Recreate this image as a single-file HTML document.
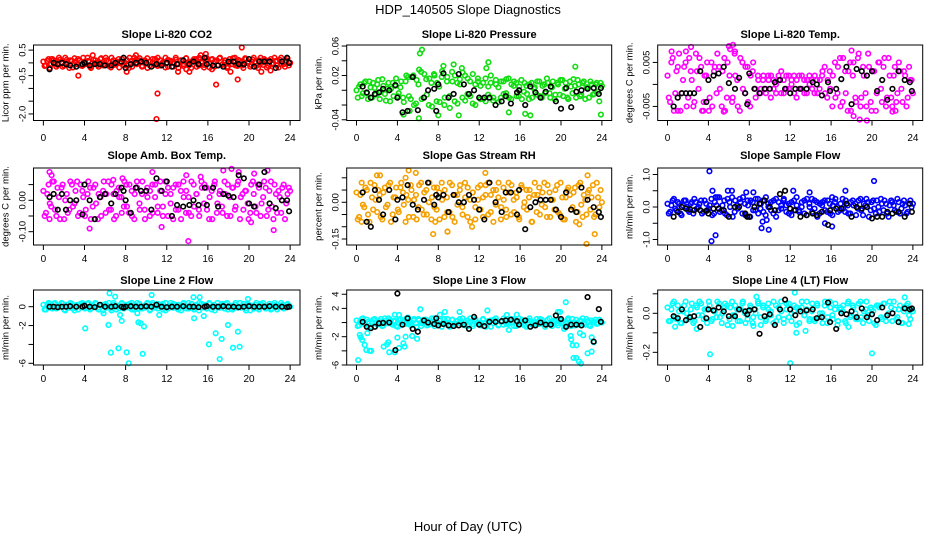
<!DOCTYPE html>
<html><head><meta charset="utf-8"><title>HDP_140505 Slope Diagnostics</title>
<style>
html,body{margin:0;padding:0;background:#fff;}
svg{display:block;font-family:"Liberation Sans",Arial,sans-serif;}
</style></head>
<body>
<svg id="chart" width="936" height="540" viewBox="0 0 936 540" xmlns="http://www.w3.org/2000/svg">
<text x="468" y="14" text-anchor="middle" font-size="13">HDP_140505  Slope Diagnostics</text>
<text x="468" y="531" text-anchor="middle" font-size="13">Hour of Day (UTC)</text>
</svg>
<script>
// shared category data
const xTicks = [0,4,8,12,16,20,24];
const blackHours = [0.6,1.0,1.4,1.8,2.2,2.6,3.2,3.8,4.0,4.5,5.0,5.5,6.0,6.6,7.0,7.6,7.8,8.0,8.5,9.0,9.5,10.0,10.5,11.0,11.5,12.0,12.5,13.0,13.6,14.2,14.6,15.1,15.7,15.9,16.5,17.0,17.5,18.0,18.5,19.0,19.5,20.0,20.5,21.0,21.5,22.0,22.6,23.2,23.7,23.9];

// Panel 1: CO2
const co2Main = [0.05,-0.1,0.15,-0.05,0.1,-0.15,0.2,0,-0.1,0.12,-0.2,0.08,0.18,-0.05,0.1,-0.12,0.05,0.2,-0.15,0,0.1,-0.08,0.15,-0.1,0.2,0.05,-0.18,0.1,-0.05,0.15,0,-0.1,0.12,-0.2,0.08,0.2,-0.05,0.1,-0.15,0.05,0.18,-0.1,0,0.15,-0.12,0.1,-0.05,0.2,-0.15,0.08,0,0.12,-0.2,0.1,-0.05,0.18,-0.1,0.05,0.15,-0.15,0.2,0,-0.08,0.1,-0.18,0.15,0.05,-0.1,0.2,-0.05,0.1,-0.15,0.05,0.18,-0.1,0.12,0,-0.2,0.15,0.05,-0.08,0.2,-0.12,0.1,0,0.15,-0.18,0.08,-0.05,0.2,-0.1,0.12,0.05,-0.15,0.18,0];
const co2MainB = [-0.12,0.08,-0.2,0.15,0,-0.08,0.12,-0.15,0.2,-0.02,0.1,-0.18,0.05,0.15,-0.1,0.2,-0.05,0.08,-0.2,0.12,0,-0.15,0.18,-0.05,0.1,-0.12,0.2,-0.08,0.05,-0.18,0.15,0.02,-0.1,0.2,-0.15,0.08,-0.02,0.18,-0.12,0.1,-0.2,0.05,0.15,-0.08,0.2,-0.1,0.02,-0.18,0.12,0.05,-0.15,0.2,-0.05,0.1,-0.12,0.18,0,-0.2,0.08,0.15,-0.1,0.05,-0.18,0.2,-0.02,0.12,-0.15,0.1,0.18,-0.08,0.02,-0.2,0.15,-0.05,0.2,-0.12,0.08,-0.1,0.18,0,-0.15,0.12,0.05,-0.2,0.2,-0.08,0.1,-0.12,0.15,-0.02,0.08,-0.18,0.2,-0.05,0.1,-0.1];
const co2OutHours = [3.4,4.8,8.1,11.1,11.0,13.1,14.2,15.8,16.4,16.8,18.2,18.9,19.3,21.2,22.1,9.0,13.9,15.3,0.8];
const co2OutValues = [-0.5,0.3,-0.35,-1.2,-2.2,-0.35,-0.35,0.35,-0.25,-0.85,-0.35,-0.65,0.6,-0.35,-0.3,0.3,-0.25,0.3,0.15];
const co2Black = [-0.25,0,-0.05,0,-0.05,-0.1,-0.15,-0.05,0,-0.1,-0.05,-0.05,-0.1,-0.1,0,0.05,0.2,-0.2,-0.05,0,0.05,0,-0.15,-0.05,-0.1,0,-0.15,-0.05,0.1,-0.05,0.05,-0.05,0.2,-0.05,-0.1,-0.1,-0.15,0.05,0.05,-0.05,-0.05,0.15,-0.15,0.05,0.05,0.05,-0.2,0.05,0.2,0];
const co2Ticks = [0.5,0,-0.5,-1,-1.5,-2];
const co2TickLabels = ["0.5","","-0.5","","","-2.0"];

// Panel 2: Pressure
const presMain = [0,0.005,-0.008,0.01,-0.004,0.012,-0.01,0.003,0.008,-0.012,0.015,-0.005,0.002,-0.015,0.01,0.006,-0.008,0.004,-0.01,0.012,0.018,-0.012,0.02,-0.018,0.008,0.025,-0.01,0.015,-0.02,0.01,0.022,-0.015,0.005,0.018,-0.02,0.012,-0.008,0.025,-0.015,0.01,0.015,-0.01,0.02,-0.005,0.012,-0.018,0.008,0.016,-0.012,0.01,-0.015,0.005,0.02,-0.01,0.008,-0.016,0.012,-0.005,0.015,-0.01,0.008,0.012,-0.008,0.005,-0.012,0.01,-0.005,0.008,-0.01,0.004,0.012,-0.008,0.006,-0.004,0.01,-0.01,0.012,-0.006,0.008,0.014,-0.008,0.01,-0.012,0.005,0.015,-0.01,0.008,-0.006,0.012,0.004,-0.01,0.008,-0.005,0.01,-0.015,0.006];
const presMainB = [-0.01,0.008,-0.004,0.012,-0.012,0.004,0.01,-0.006,0.014,-0.002,0.006,-0.014,0.01,0.002,-0.008,0.016,-0.004,0.012,-0.016,0.02,-0.008,0.018,-0.02,0.014,0.028,-0.012,0.022,-0.006,0.016,-0.022,0.02,0.01,-0.016,0.026,-0.01,0.018,-0.024,0.012,0.02,-0.018,0.008,0.024,-0.014,0.016,-0.008,0.022,-0.02,0.012,0.006,-0.012,0.016,-0.006,0.01,-0.014,0.014,0.004,-0.01,0.012,-0.004,0.016,-0.012,0.006,0.01,-0.008,0.014,-0.002,0.006,-0.012,0.01,0.002,-0.006,0.012,-0.01,0.008,0.016,-0.004,0.004,-0.012,0.01,-0.006,0.014,0.002,-0.01,0.012,-0.004,0.006,0.014,-0.008,0.01,-0.012,0.004,0.012,-0.006,0.008,-0.002,0.01];
const presOutHours = [6.2,6.4,6.1,12.9,21.4,23.9,4.6,5.2,8.0,14.9,16.5,17.0,9.5,10.3,12.7,10.0,8.5];
const presOutValues = [0.05,0.055,-0.038,0.038,0.032,-0.033,-0.033,-0.028,-0.034,-0.03,-0.032,-0.034,0.035,0.03,0.03,-0.034,0.033];
const presBlack = [0.005,-0.003,-0.01,-0.005,-0.003,0.002,0,0.007,-0.01,-0.03,-0.028,0.018,-0.027,-0.01,0,0.002,-0.028,0.008,0.023,-0.01,-0.005,0.022,0.008,-0.005,0,-0.01,-0.01,-0.01,-0.02,-0.015,-0.008,-0.018,-0.003,0,-0.02,0.005,-0.003,-0.01,-0.002,0.005,-0.015,-0.025,0.003,-0.023,-0.002,0,0.002,0.003,-0.005,0.003];
const presTicks = [0.06,0.04,0.02,0,-0.02,-0.04];
const presTickLabels = ["0.06","","0.02","","","-0.04"];

// Panel 3: Li-820 Temp
const ltMain = [0.002,-0.004,0.006,-0.002,0.004,-0.006,0.001,0.005,-0.003,0.003,-0.005,0.007,-0.001,0.004,-0.004,0.002,-0.006,0.005,0.003,-0.002,0.004,-0.005,0.006,-0.003,0.002,-0.004,0.007,0.001,-0.006,0.005,-0.002,0.004,-0.005,0.003,-0.001,0.002,-0.002,0.001,-0.001,0.002,-0.003,0.001,0,0.002,-0.002,0.001,-0.001,0.002,0,-0.002,0.001,-0.001,0.002,-0.002,0.001,0,-0.001,0.002,-0.002,0.001,0.003,-0.002,0.001,-0.001,0.002,-0.003,0.004,-0.005,0.006,-0.002,0.003,-0.006,0.005,-0.004,0.007,-0.003,0.002,-0.005,0.004,-0.006,0.003,-0.002,0.005,-0.004,0.006,-0.003,0.002,-0.005,0.004,-0.002,0.003,-0.004,0.002,-0.003,0.001,-0.002];
const ltMainB = [-0.003,0.005,-0.006,0.003,0.007,-0.002,0.004,-0.005,0.006,0.001,-0.004,0.003,0.006,-0.006,0.002,0.005,-0.003,-0.005,0.004,0.007,-0.001,0.003,-0.006,0.005,0.008,-0.003,0.002,-0.005,0.006,-0.001,0.004,-0.004,0.002,0.005,-0.003,0.001,-0.001,0.002,-0.002,0.001,0.002,-0.001,-0.002,0.001,0.003,-0.002,0.002,-0.001,0.001,0.002,-0.003,0.002,-0.001,0.001,-0.002,0.002,0.001,-0.002,0.001,-0.001,0.002,0.004,-0.003,0.003,-0.005,0.005,-0.002,0.006,-0.004,0.003,-0.006,0.005,0.002,-0.003,0.006,-0.005,0.004,-0.002,0.007,-0.004,0.003,-0.006,0.005,-0.001,0.004,-0.005,0.006,-0.003,0.002,-0.004,0.005,-0.001,0.003,-0.005,0.004,0.001];
const ltOutHours = [0.4,1.8,2.3,6.0,6.4,6.6,18.0,18.2,18.8,19.5,22.0,22.3,1.0,5.5,3.5];
const ltOutValues = [0.0075,0.0075,0.0085,0.0087,0.009,0.0075,0.0077,-0.0072,-0.008,-0.0082,-0.0062,-0.006,-0.006,-0.0062,-0.006];
const ltBlack = [-0.005,-0.003,-0.002,-0.002,-0.002,-0.002,0.003,-0.004,0.001,0.002,0.0025,0.004,0.0003,-0.001,0.0015,-0.002,-0.0045,0.0025,-0.001,-0.002,-0.001,-0.001,0.0005,0.001,-0.001,-0.002,-0.001,-0.001,-0.001,0.0005,0,-0.0025,0.0005,-0.0015,-0.001,0.0012,0.004,-0.0045,0.0035,0.003,0.002,0.003,-0.0015,0.001,-0.0035,-0.001,0.003,0.001,0.0005,-0.0015];
const ltTicks = [0.005,0,-0.005];
const ltTickLabels = ["0.005","","-0.005"];

// Panel 4: Amb box temp
const abMain = [0.03,-0.04,0.05,-0.02,0.06,-0.05,0.01,0.04,-0.06,0.02,-0.03,0.05,-0.01,0.06,-0.04,0.03,-0.05,0.02,0.04,-0.02,0.05,-0.06,0.01,0.03,-0.04,0.06,-0.03,0.02,-0.05,0.04,0.01,-0.02,0.05,-0.04,0.03,-0.06,0.06,-0.01,0.02,-0.03,0.04,-0.05,0.05,0.01,-0.04,0.03,-0.02,0.06,-0.05,0.02,0.04,-0.03,0.05,-0.06,0.01,0.03,-0.04,0.06,-0.02,0.02,-0.05,0.04,0.05,-0.03,0.01,-0.06,0.06,-0.01,0.03,-0.04,0.02,0.05,-0.05,0.04,-0.02,0.06,0.01,-0.03,0.03,-0.06,0.05,0.02,-0.04,0.04,-0.01,0.06,-0.05,0.03,-0.02,0.05,-0.04,0.01,0.04,-0.06,0.02,0.03];
const abMainB = [-0.05,0.02,-0.01,0.06,-0.03,0.04,-0.06,0.05,0,-0.04,0.06,-0.02,0.03,-0.05,0.05,0.01,-0.03,0.06,-0.06,0.04,-0.01,0.02,-0.05,0.06,0.02,-0.03,0.05,-0.06,0.03,0.01,-0.04,0.06,-0.02,0.05,-0.05,0.02,0.04,-0.03,0.06,-0.06,0.01,0.03,-0.04,0.05,-0.02,0.06,-0.05,0.02,0.04,-0.01,-0.06,0.05,-0.03,0.03,0.06,-0.04,0.01,-0.05,0.05,0.02,-0.03,0.06,-0.01,0.04,-0.06,0.03,0.05,-0.04,0.02,-0.02,0.06,-0.05,0.01,0.04,-0.03,0.05,-0.06,0.02,0.03,-0.01,-0.04,0.06,-0.02,0.05,-0.05,0.01,0.04,-0.03,0.06,-0.06,0.02,0.03,-0.04,0.05,-0.01,0.04];
const abOutHours = [0.6,0.8,4.5,6.8,10.6,11.5,14.1,15.3,17.5,18.3,19.0,20.2,20.5,21.8,22.4,0.6,7.7,13.9];
const abOutValues = [0.09,0.08,-0.09,0.065,0.09,-0.085,-0.13,0.075,0.095,0.1,0.09,-0.07,0.085,0.095,-0.095,-0.06,0.07,0.08];
const abBlack = [0.01,0.02,-0.03,0.02,-0.03,0,0,-0.045,0.05,0,-0.06,0.01,0.02,-0.01,0.02,0.04,0.03,0,-0.04,0.04,0.03,0.03,-0.03,0.07,0.03,0.06,-0.05,-0.015,-0.02,-0.015,0,-0.015,0.04,-0.015,0.04,-0.02,0.02,0.015,0.01,0.08,0.07,-0.01,-0.02,0.05,0.09,-0.01,-0.025,0,0,-0.035];
const abTicks = [0.05,0,-0.05,-0.1];
const abTickLabels = ["","0.00","","-0.10"];

// Panel 5: Gas stream RH
const rhMain = [0.04,-0.06,0.08,-0.02,0.05,-0.08,0.02,0.07,-0.04,0.03,-0.07,0.06,-0.01,0.08,-0.05,0.02,-0.03,0.06,0.04,-0.08,0.01,0.07,-0.06,0.03,-0.02,0.08,-0.05,0.05,0,-0.07,0.06,-0.03,0.04,0.08,-0.06,0.02,-0.04,0.07,-0.08,0.03,0.05,-0.02,0.08,-0.06,0.01,0.04,-0.07,0.06,-0.03,0.02,0.07,-0.05,0.03,-0.08,0.05,0.08,-0.02,0.01,-0.06,0.04,0.07,-0.04,0.02,-0.07,0.06,0,-0.03,0.05,-0.08,0.08,0.03,-0.05,0.04,-0.02,0.07,-0.06,0.01,0.05,-0.04,0.08,-0.07,0.02,0.06,-0.03,0.04,-0.08,0.07,-0.01,0.03,-0.05,0.05,0.02,-0.06,0.08,-0.02,0];
const rhMainB = [-0.07,0.03,-0.01,0.06,-0.05,0.08,-0.03,0.01,0.05,-0.06,0.04,-0.02,0.07,-0.08,0.02,0.06,-0.04,0.08,-0.01,0.03,-0.06,0.05,0.01,-0.07,0.07,-0.03,0.04,-0.05,0.08,0.02,-0.02,0.06,-0.07,0.01,0.05,-0.04,0.08,-0.06,0.03,-0.01,0.07,-0.05,0.02,0.06,-0.08,0.04,-0.02,0.01,0.07,-0.06,0.03,0.08,-0.04,0.05,-0.01,0.02,-0.07,0.06,-0.03,0.08,-0.05,0.01,0.04,-0.06,0.07,-0.02,0.05,0.02,-0.08,0.03,-0.04,0.06,-0.01,0.08,-0.06,0.04,0.01,-0.03,0.07,-0.05,0.02,-0.07,0.05,0.03,-0.02,0.06,-0.04,0.08,-0.06,0.01,0.04,-0.03,0.07,-0.05,0.02,0.05];
const rhOutHours = [2.0,2.3,4.8,5.1,5.8,8.9,12.6,22.6,22.5,23.3,7.5,7.7,8.9,11.3,21.8,0.5];
const rhOutValues = [0.11,0.11,0.1,0.13,0.12,-0.12,0.12,0.11,-0.17,-0.13,-0.13,-0.08,-0.12,-0.1,-0.09,-0.08];
const rhBlack = [0.04,-0.08,-0.1,0.05,0.01,-0.05,0.05,-0.07,0.01,0.02,0.07,-0.01,-0.03,0.01,0.08,-0.01,0.03,0.02,0.03,-0.04,0.03,0,0,0.03,0.01,-0.03,-0.07,0.08,0,-0.04,0.04,0.04,-0.05,0.05,-0.11,-0.02,0,0.01,0.01,0.01,-0.03,-0.06,0.04,-0.03,-0.04,0.06,0.01,-0.02,-0.04,-0.06];
const rhTicks = [0.1,0.05,0,-0.05,-0.1,-0.15];
const rhTickLabels = ["","","0.00","","","-0.15"];

// Panel 6: Sample flow
const sfMain = [0.1,-0.15,0.2,-0.05,0.15,-0.2,0.05,0.2,-0.1,0.1,-0.2,0.15,0,0.2,-0.15,0.1,-0.05,0.25,-0.2,0.05,0.3,-0.1,0.2,-0.25,0.15,0.3,-0.15,0.05,0.25,-0.2,0.1,0.2,-0.3,0.15,-0.1,0.25,-0.05,0.2,-0.25,0.1,0.15,-0.2,0.25,-0.1,0.05,0.2,-0.15,0.1,-0.25,0.2,0.05,-0.1,0.15,-0.2,0.25,0,-0.15,0.2,-0.3,0.1,0.15,-0.1,0.2,-0.2,0.05,0.25,-0.15,0.1,-0.05,0.2,-0.2,0.15,0.05,-0.25,0.2,-0.1,0.1,0.25,-0.3,0.15,-0.05,0.2,-0.15,0.1,0.2,-0.2,0.05,0.15,-0.1,0.25,-0.2,0.1,0.05,-0.15,0.2,0.1];
const sfMainB = [-0.2,0.05,0.25,-0.1,0.1,-0.25,0.2,0,-0.15,0.15,0.25,-0.05,0.1,-0.2,0.2,-0.1,0.05,-0.25,0.15,0.3,-0.15,0.05,-0.2,0.25,0,-0.3,0.2,-0.05,0.15,0.3,-0.25,0.05,0.2,-0.1,0.25,-0.2,0.1,-0.15,0.3,0,-0.1,0.2,-0.3,0.15,-0.05,0.25,0.05,-0.2,0.15,-0.1,0.3,-0.15,0,0.2,-0.25,0.1,0.25,-0.05,0.15,-0.2,0.05,0.2,-0.15,0.1,-0.25,0.15,0,-0.1,0.25,-0.15,0.05,-0.2,0.2,0.1,-0.05,0.25,-0.25,0.05,0.15,-0.1,0.2,-0.2,0,0.25,-0.1,0.1,-0.3,0.2,0.05,-0.15,0.15,-0.05,0.2,-0.2,0.1,0];
const sfOutHours = [4.1,4.3,4.4,4.7,5.9,6.3,7.7,8.4,9.2,9.9,12.3,13.9,15.4,16.1,16.1,17.4,20.2,4.7,9.3,9.7];
const sfOutValues = [1.1,-1.05,0.5,-0.87,0.5,0.5,0.45,0.45,-0.65,-0.7,0.5,0.45,-0.5,-0.6,0.3,0.5,0.8,0.3,-0.45,-0.4];
const sfBlack = [-0.3,-0.15,0,-0.05,-0.07,-0.1,-0.1,-0.12,-0.2,-0.05,-0.05,-0.1,-0.3,0,0,-0.2,-0.3,-0.3,0,0.1,0.2,0,-0.1,0.4,0.5,-0.05,-0.1,-0.3,-0.25,-0.2,-0.25,-0.15,-0.55,-0.1,-0.05,-0.05,0.1,-0.3,0,-0.05,0,-0.35,-0.3,-0.3,-0.15,-0.2,-0.15,-0.3,0.1,-0.15];
const sfTicks = [1,0.5,0,-0.5,-1];
const sfTickLabels = ["1.0","","0.0","","-1.0"];

// Panel 7: Line 2 flow
const l2Main = [0.2,-0.3,0.4,-0.1,0.3,-0.2,0.1,0.4,-0.3,0.2,-0.1,0.3,-0.4,0.2,0,0.4,-0.2,0.3,-0.3,0.1,0.4,-0.1,0.2,-0.4,0.3,0,-0.2,0.4,-0.3,0.1,0.3,-0.2,0.2,-0.1,0.4,-0.3,0,0.3,-0.2,0.1,0.4,-0.4,0.2,-0.1,0.3,0,-0.3,0.4,-0.2,0.1,0.3,-0.1,0.2,-0.4,0.4,0,-0.2,0.3,-0.3,0.1,0.4,-0.1,0.2,-0.2,0.3,0,-0.4,0.4,-0.1,0.2,0.3,-0.3,0.1,-0.2,0.4,0,-0.1,0.3,-0.4,0.2,0.1,-0.2,0.4,-0.3,0.2,0,-0.1,0.3,-0.2,0.4,-0.3,0.1,0.2,-0.1,0.3,0];
const l2MainB = [-0.3,0.1,0.3,-0.2,0.4,-0.1,0,0.3,-0.4,0.2,0.4,-0.2,0.1,-0.3,0.3,0.2,-0.1,0.4,-0.2,0,0.3,-0.3,0.1,0.2,-0.1,0.4,-0.4,0.2,0,-0.2,0.4,-0.1,0.1,0.3,-0.3,0.2,0.4,-0.2,0,-0.1,0.3,-0.3,0.4,0.1,-0.2,0.2,0.3,-0.4,0,0.4,-0.1,0.2,-0.3,0.1,0.3,-0.2,0.4,0,-0.1,0.2,-0.4,0.3,0.1,-0.2,0.4,-0.3,0.2,0,-0.1,0.3,-0.2,0.4,0.1,-0.3,0.2,-0.1,0.4,0,-0.2,0.3,-0.4,0.1,0.2,-0.1,0.3,0.4,-0.2,0,-0.3,0.2,0.1,-0.1,0.4,-0.2,0.2,0.1];
const l2OutHours = [4.07,6.43,6.98,5.85,6.33,6.56,7.3,7.46,7.62,8.1,8.3,9.14,9.24,9.47,9.79,9.66,10.53,11.27,14.66,15.6,16.1,16.76,17.15,17.34,17.96,18.44,18.92,19.09,19.9,14.6,15.2];
const l2OutValues = [-2.3,1.42,1.06,-0.7,-1.94,-4.87,-4.41,-0.88,-1.5,-4.84,-6.0,-0.7,-1.66,-1.76,-2.1,-5.0,1.24,-0.88,-1.23,-0.99,-3.99,-2.82,-5.55,-3.42,-1.94,-4.35,-2.65,-4.24,0.82,1.0,1.0];
const l2Black = [0,0,-0.05,0,0,0.05,0,0,0.1,0,-0.05,0.2,0,0,0.05,0,-0.1,0,0.05,0,0,0.05,0,0.2,0,-0.05,0,0,0.05,0,0,-0.05,0,0.05,0,0,0.05,0,0,-0.05,0,0.05,0,0,0,0.05,0,0,-0.05,0];
const l2Ticks = [0,-2,-4,-6];
const l2TickLabels = ["0","-2","","-6"];

// Panel 8: Line 3 flow
const l3Main = [0.3,-0.4,0.5,-0.2,0.4,-0.6,0.1,0.5,-0.3,0.2,-0.5,0.6,-0.1,0.4,-0.3,0.2,-0.6,0.5,0,-0.2,0.6,-0.4,0.3,-0.1,0.5,-0.5,0.2,0.4,-0.3,0.1,0.6,-0.2,0.3,-0.6,0.5,0,-0.4,0.4,-0.1,0.2,0.5,-0.3,0.1,-0.5,0.6,-0.2,0.3,0,-0.4,0.5,-0.1,0.2,-0.6,0.4,0.3,-0.3,0.1,0.6,-0.2,0,0.5,-0.5,0.2,-0.1,0.4,-0.4,0.3,0.6,-0.3,0.1,-0.2,0.5,0,-0.6,0.4,-0.1,0.2,0.3,-0.4,0.5,-0.2,0.1,0.6,-0.5,0,0.4,-0.3,0.2,-0.1,0.5,-0.4,0.3,0.1,-0.2,0.4,0];
const l3MainB = [-0.5,0.2,0.6,-0.3,0.1,-0.6,0.4,0,-0.2,0.5,-0.4,0.3,0.6,-0.1,0.2,-0.5,0.4,-0.3,0.1,0.6,-0.2,0,0.5,-0.6,0.3,-0.1,0.4,-0.4,0.2,0.6,-0.5,0.1,0.3,-0.2,0,0.5,-0.6,0.4,-0.3,0.2,-0.1,0.6,-0.4,0.3,0.1,-0.5,0.5,-0.2,0,0.4,-0.6,0.2,0.3,-0.1,0.6,-0.4,0.1,-0.3,0.5,-0.2,0,0.4,-0.5,0.6,-0.1,0.2,-0.6,0.3,0.1,-0.4,0.5,-0.2,0.4,0,-0.3,0.6,-0.5,0.2,-0.1,0.3,0.1,-0.6,0.4,-0.2,0.5,-0.4,0,0.3,0.6,-0.3,0.2,-0.5,0.1,0.4,-0.1,0.2];
const l3OutHours = [0.16,0.32,0.42,0.55,0.8,0.96,1.28,1.06,1.44,2.66,2.98,3.1,3.2,3.74,4.0,4.16,4.58,4.7,4.16,3.74,5.02,4.8,5.44,5.92,6.24,8.16,8.64,10.08,12.8,14.7,14.9,15.67,19.7,19.9,20.47,20.3,20.95,21.0,21.14,21.5,21.23,21.5,21.74,21.95,21.85,22.17,22.6,23.0,23.0,23.2];
const l3OutValues = [-5.3,-1.75,-2.1,-2.46,-3.17,-3.88,-4.0,-1.5,-4.0,-3.4,-3.07,-2.79,-4.2,-4.2,-2.13,-3.6,-2.93,-3.4,1.07,1.1,0.7,-2.0,-1.9,-2.3,1.88,1.1,1.5,1.5,1.7,1.07,-1.05,1.1,1.5,1.5,2.87,-0.9,-1.9,-2.4,-3.2,-3.2,-5.0,-5.0,-5.5,-5.8,-1.5,-1.8,-4.35,-4.1,-2.1,-2.8];
const l3Black = [0.1,-0.6,-0.8,-0.6,-0.1,-0.05,0,-3.9,4.1,-0.3,0.6,-0.9,-1.3,0.3,0,-0.2,0.6,-0.4,-0.2,-0.4,-0.5,-0.4,-0.3,-0.9,0.8,-0.3,-0.5,0.1,0.1,0.2,0.3,0.4,0.2,-0.3,0.3,-0.6,-0.4,0,-0.3,-0.3,1.0,0.5,-0.6,-0.3,-0.3,-0.4,3.6,-2.7,1.9,0.1];
const l3Ticks = [4,2,0,-2,-4,-6];
const l3TickLabels = ["4","2","","-2","","-6"];

// Panel 9: Line 4 (LT) flow
const l4Main = [0.03,-0.04,0.05,-0.02,0.04,-0.05,0.01,0.06,-0.03,0.02,-0.05,0.04,-0.01,0.05,-0.03,0.02,0.06,-0.04,0.01,-0.02,0.05,-0.05,0.03,0.04,-0.03,0.06,-0.01,0.02,-0.04,0.05,0,-0.03,0.04,-0.05,0.02,0.06,-0.02,0.03,-0.04,0.05,0.01,-0.05,0.04,-0.02,0.06,-0.03,0.02,0.05,-0.04,0.01,0.03,-0.05,0.06,-0.01,0.02,-0.03,0.05,-0.04,0.04,0,-0.05,0.06,-0.02,0.03,-0.03,0.05,-0.04,0.02,0.04,-0.05,0.06,-0.01,0.03,-0.03,0.05,-0.02,0.01,0.06,-0.04,0.02,-0.05,0.04,0.03,-0.03,0.05,-0.01,0.06,-0.04,0.02,-0.02,0.04,-0.05,0.03,0.05,-0.03,0.01];
const l4MainB = [-0.04,0.02,0.06,-0.03,0.01,-0.05,0.04,0,-0.02,0.05,-0.04,0.03,0.06,-0.01,0.02,-0.05,0.04,-0.03,0.01,0.06,-0.02,0,0.05,-0.06,0.03,-0.01,0.04,-0.04,0.02,0.06,-0.05,0.01,0.03,-0.02,0,0.05,-0.06,0.04,-0.03,0.02,-0.01,0.06,-0.04,0.03,0.01,-0.05,0.05,-0.02,0,0.04,-0.06,0.02,0.03,-0.01,0.06,-0.04,0.01,-0.03,0.05,-0.02,0,0.04,-0.05,0.06,-0.01,0.02,-0.06,0.03,0.01,-0.04,0.05,-0.02,0.04,0,-0.03,0.06,-0.05,0.02,-0.01,0.03,0.01,-0.06,0.04,-0.02,0.05,-0.04,0,0.03,0.06,-0.03,0.02,-0.05,0.01,0.04,-0.01,0.02];
const l4OutHours = [4.16,12.0,20.0,12.45,8.7,23.2,0.74,2.86,12.6,13.5,17.7,6.37,8.4,23.6];
const l4OutValues = [-0.21,-0.256,-0.205,0.106,0.085,0.082,-0.069,-0.08,-0.1,-0.09,-0.07,-0.065,-0.065,-0.055];
const l4Black = [-0.015,-0.025,0.02,-0.035,-0.02,-0.015,-0.07,-0.025,0.02,0.015,0.03,0.01,-0.015,-0.015,0.02,0.01,-0.005,0.015,0.02,-0.105,-0.015,-0.005,-0.06,0.02,0.07,0.02,-0.01,0.01,0.015,0.02,-0.025,-0.02,0.055,-0.045,-0.08,0,-0.005,0.01,-0.02,0.025,-0.02,-0.005,-0.035,0.03,-0.01,0,-0.045,0.025,0.02,0.025];
const l4Ticks = [0.1,0,-0.1,-0.2];
const l4TickLabels = ["","0.0","","-0.2"];

const SVGNS = "http://www.w3.org/2000/svg";
const svg = document.getElementById('chart');
function mk(tag, attrs, parent){
  const e = document.createElementNS(SVGNS, tag);
  for (const k in attrs) e.setAttribute(k, attrs[k]);
  (parent||svg).appendChild(e);
  return e;
}

// layout (pixel geometry) — not data
const cols = [{l:33.5,r:300},{l:346.7,r:611.7},{l:657.7,r:922.7}];
const rows = [{t:45,b:120.5,title:38,xlab:141},{t:168,b:245,title:159,xlab:262},{t:290,b:365,title:284,xlab:382}];

const panels = [
  {key:'co2',title:'Slope Li-820 CO2',ylab:'Licor ppm per min.',col:0,row:0,yMin:-2.257,yMax:0.70,color:'#ff0000',main:co2Main,mainB:co2MainB,oh:co2OutHours,ov:co2OutValues,blk:co2Black,ticks:co2Ticks,tl:co2TickLabels},
  {key:'pressure',title:'Slope Li-820 Pressure',ylab:'kPa per min.',col:1,row:0,yMin:-0.041,yMax:0.0614,color:'#11dd11',main:presMain,mainB:presMainB,oh:presOutHours,ov:presOutValues,blk:presBlack,ticks:presTicks,tl:presTickLabels},
  {key:'li-temp',title:'Slope Li-820 Temp.',ylab:'degrees C per min.',col:2,row:0,yMin:-0.0082,yMax:0.00896,color:'#ff00ff',main:ltMain,mainB:ltMainB,oh:ltOutHours,ov:ltOutValues,blk:ltBlack,ticks:ltTicks,tl:ltTickLabels},
  {key:'amb-box-temp',title:'Slope Amb. Box Temp.',ylab:'degrees C per min.',col:0,row:1,yMin:-0.1424,yMax:0.1029,color:'#ff00ff',main:abMain,mainB:abMainB,oh:abOutHours,ov:abOutValues,blk:abBlack,ticks:abTicks,tl:abTickLabels},
  {key:'gas-stream-rh',title:'Slope Gas Stream RH',ylab:'percent per min.',col:1,row:1,yMin:-0.1745,yMax:0.140,color:'#f5a000',main:rhMain,mainB:rhMainB,oh:rhOutHours,ov:rhOutValues,blk:rhBlack,ticks:rhTicks,tl:rhTickLabels},
  {key:'sample-flow',title:'Slope Sample Flow',ylab:'ml/min per min.',col:2,row:1,yMin:-1.169,yMax:1.2,color:'#0000ff',main:sfMain,mainB:sfMainB,oh:sfOutHours,ov:sfOutValues,blk:sfBlack,ticks:sfTicks,tl:sfTickLabels},
  {key:'line2-flow',title:'Slope Line 2 Flow',ylab:'ml/min per min.',col:0,row:2,yMin:-6.18,yMax:1.77,color:'#00ffff',main:l2Main,mainB:l2MainB,oh:l2OutHours,ov:l2OutValues,blk:l2Black,ticks:l2Ticks,tl:l2TickLabels},
  {key:'line3-flow',title:'Slope Line 3 Flow',ylab:'ml/min per min.',col:1,row:2,yMin:-6.0,yMax:4.6,color:'#00ffff',main:l3Main,mainB:l3MainB,oh:l3OutHours,ov:l3OutValues,blk:l3Black,ticks:l3Ticks,tl:l3TickLabels},
  {key:'line4-flow',title:'Slope Line 4 (LT) Flow',ylab:'ml/min per min.',col:2,row:2,yMin:-0.265,yMax:0.1195,color:'#00ffff',main:l4Main,mainB:l4MainB,oh:l4OutHours,ov:l4OutValues,blk:l4Black,ticks:l4Ticks,tl:l4TickLabels}
];

panels.forEach(p => {
  const c = cols[p.col], r = rows[p.row];
  const g = mk('g', {});
  
  
  const xs = h => c.l + (h + 0.96) / 25.92 * (c.r - c.l);
  const ys = v => r.b - (v - p.yMin) / (p.yMax - p.yMin) * (r.b - r.t);

  const t = mk('text', {x:(c.l+c.r)/2, y:r.title, 'text-anchor':'middle', 'font-size':11, 'font-weight':'bold'}, g);
  t.textContent = p.title;
  
  

  const cy = (r.t + r.b) / 2;
  const yl = mk('text', {x:c.l-25, y:cy, 'text-anchor':'middle', 'font-size':9.5, transform:'rotate(-90 '+(c.l-25)+' '+cy+')'}, g);
  yl.textContent = p.ylab;
  
  

  const pts = mk('g', {fill:'none', stroke:p.color, 'stroke-width':1.6}, g);
  
  
  const n = p.main.length;
  p.main.forEach((v, i) => {
    const h = i * 24 / (n - 1);
    const ci = mk('circle', {cx:xs(h), cy:ys(v), r:2.3}, pts);
    
    
  });
  const nb = p.mainB.length;
  p.mainB.forEach((v, i) => {
    const h = (i + 0.5) * 24 / nb;
    const ci = mk('circle', {cx:xs(h), cy:ys(v), r:2.3}, pts);
    
    
  });
  p.oh.forEach((h, i) => {
    const ci = mk('circle', {cx:xs(h), cy:ys(p.ov[i]), r:2.3}, pts);
    
    
  });
  const bk = mk('g', {fill:'none', stroke:'#000', 'stroke-width':1.6}, g);
  
  
  p.blk.forEach((v, i) => {
    const ci = mk('circle', {cx:xs(blackHours[i]), cy:ys(v), r:2.3}, bk);
    
    
  });

  const box = mk('rect', {x:c.l, y:r.t, width:c.r-c.l, height:r.b-r.t, fill:'none', stroke:'#000', 'stroke-width':1}, g);
  
  

  const xa = mk('g', {}, g);
  
  
  xTicks.forEach(tv => {
    const x = xs(tv);
    mk('line', {x1:x, x2:x, y1:r.b, y2:r.b+5, stroke:'#000'}, xa);
    const lb = mk('text', {x:x, y:r.xlab, 'text-anchor':'middle', 'font-size':10}, xa);
    lb.textContent = String(tv);
    
    
  });
  const ya = mk('g', {}, g);
  
  
  p.ticks.forEach((tv, i) => {
    const y = ys(tv);
    mk('line', {x1:c.l-5, x2:c.l, y1:y, y2:y, stroke:'#000'}, ya);
    if (p.tl[i]) {
      const lx = c.l - 8;
      const lb = mk('text', {x:lx, y:y, 'text-anchor':'middle', 'font-size':9.5, transform:'rotate(-90 '+lx+' '+y+')'}, ya);
      lb.textContent = p.tl[i];
      
      
    }
  });
});
</script>
</body></html>
